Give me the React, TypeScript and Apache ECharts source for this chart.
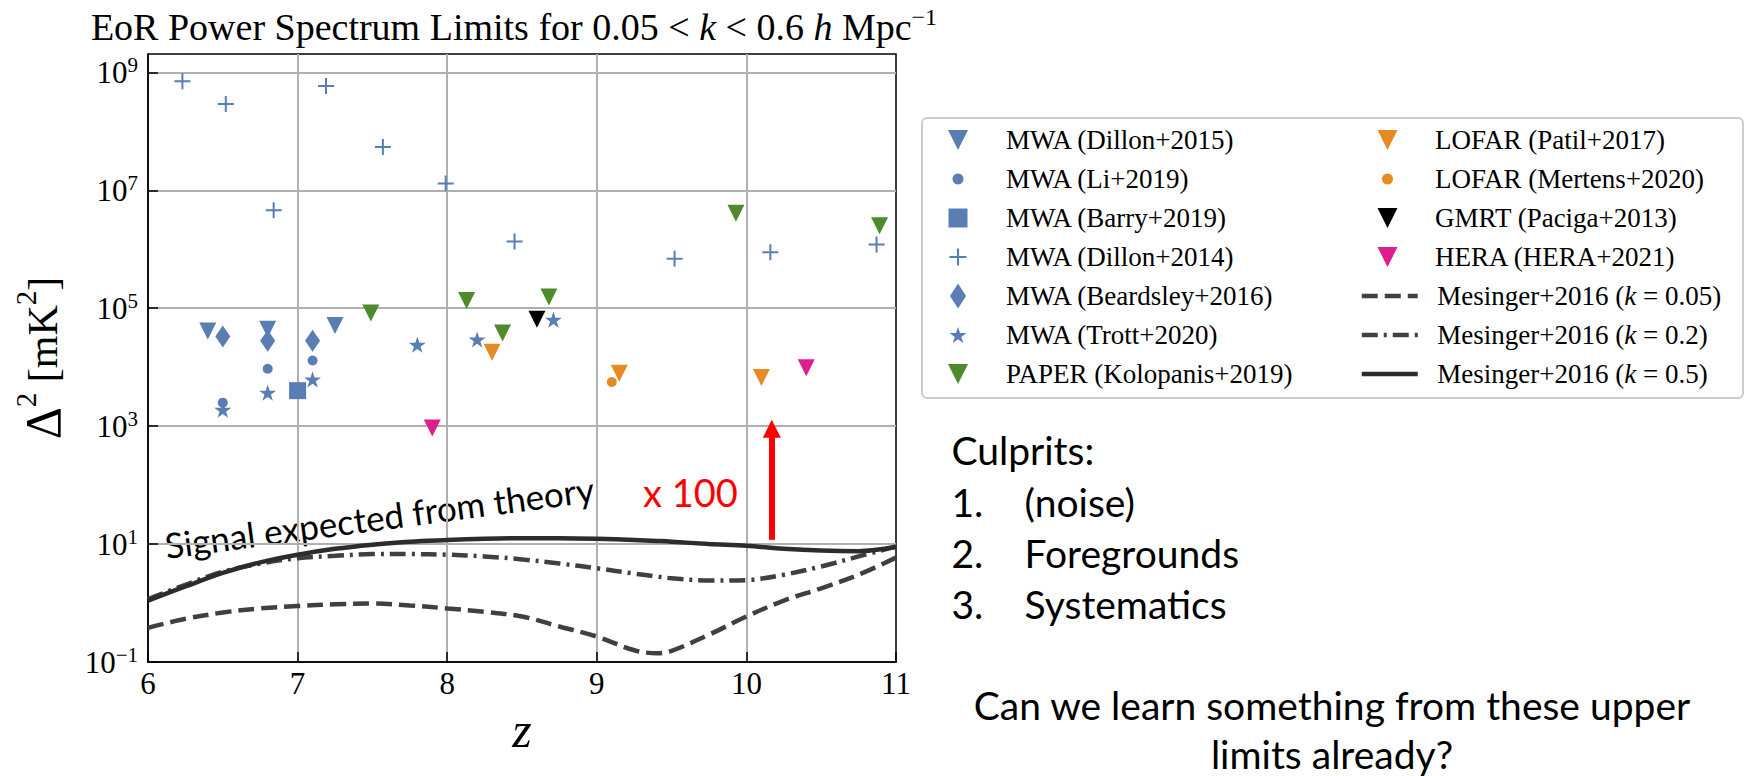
import { useEffect, useRef } from 'react';
import * as echarts from 'echarts';

const SERIF = '"Liberation Serif", "Times New Roman", serif';
const SANS = 'Lato, "Open Sans", sans-serif';

// Axis ranges (redshift z, Δ² in mK²) and the labelled decades
const Z_RANGE = [6, 11];
const DELTA_RANGE = [0.1, 2.05e9];
const DELTA_TICK_EXPONENTS = [-1, 1, 3, 5, 7, 9];

// Mesinger+2016 model power spectra, Δ² [mK²] versus z
const MODEL_Z = [6, 6.25, 6.5, 6.75, 7, 7.25, 7.5, 7.75, 8, 8.25, 8.5, 8.75, 9, 9.25, 9.4, 9.5, 9.75, 10, 10.25, 10.5, 10.75, 11];
const MESINGER_K005 = [0.38, 0.54, 0.69, 0.81, 0.89, 0.95, 0.98, 0.91, 0.81, 0.71, 0.59, 0.4, 0.27, 0.158, 0.141, 0.155, 0.29, 0.59, 1.1, 1.78, 3.02, 5.89];
const MESINGER_K02 = [1.17, 2.04, 3.39, 4.68, 5.75, 6.31, 6.76, 6.76, 6.61, 6.17, 5.5, 4.68, 3.89, 3.16, 2.82, 2.63, 2.4, 2.45, 3.02, 4.17, 6.17, 9.12];
const MESINGER_K05 = [1.1, 1.91, 3.24, 4.9, 6.61, 8.32, 9.77, 11.0, 11.7, 12.3, 12.6, 12.6, 12.3, 11.7, 11.3, 11.0, 10.0, 9.33, 8.32, 7.76, 7.59, 8.91];

// Upper limits, [z, Δ² (mK²)]
const MWA_DILLON2015 = [[6.4, 4.1e4], [6.8, 4.4e4], [7.25, 5.1e4]];
const MWA_LI2019 = [[6.5, 2.5e3], [6.8, 9.4e3], [7.1, 1.3e4]];
const MWA_BARRY2019 = [[7.0, 4.0e3]];
const MWA_DILLON2014 = [[6.23, 7.1e8], [6.52, 2.9e8], [6.84, 4.6e6], [7.19, 5.9e8], [7.57, 5.4e7], [7.99, 1.3e7], [8.45, 1.35e6], [9.52, 6.9e5], [10.16, 8.9e5], [10.87, 1.2e6]];
const MWA_BEARDSLEY2016 = [[6.5, 3.3e4], [6.8, 2.8e4], [7.1, 2.8e4]];
const MWA_TROTT2020 = [[6.5, 1.9e3], [6.8, 3.7e3], [7.1, 6.2e3], [7.8, 2.4e4], [8.2, 2.95e4], [8.71, 6.4e4]];
const PAPER_KOLOPANIS2019 = [[7.49, 8.3e4], [8.13, 1.35e5], [8.37, 3.8e4], [8.68, 1.55e5], [9.93, 4.1e6], [10.89, 2.5e6]];
const LOFAR_PATIL2017 = [[8.3, 1.8e4], [9.15, 7.9e3], [10.1, 6.7e3]];
const LOFAR_MERTENS2020 = [[9.1, 5.6e3]];
const GMRT_PACIGA2013 = [[8.6, 6.5e4]];
const HERA_2021 = [[7.9, 9.3e2], [10.4, 9.8e3]];

// "x 100" arrow: from just above the k = 0.5 curve up two decades
const ARROW_Z = 10.17;
const ARROW_FROM = 11.8;
const ARROW_TO = 900;

const BLUE = '#5a7db4';
const GREEN = '#4f8a2c';
const ORANGE = '#e68a24';
const MAGENTA = '#dd1f8e';
const CURVE_GREY = '#404040';

// Marker shapes
const TRI_DOWN = 'path://M0,0L2,0L1,2Z';
const PLUS = 'path://M7,0H9V7H16V9H9V16H7V9H0V7H7Z';
const STAR =
  'path://' +
  Array.from({ length: 10 }, (_, i) => {
    const a = -Math.PI / 2 + (i * Math.PI) / 5;
    const r = i % 2 === 0 ? 1 : 0.382;
    return `${i === 0 ? 'M' : 'L'}${(r * Math.cos(a)).toFixed(4)},${(r * Math.sin(a)).toFixed(4)}`;
  }).join('') +
  'Z';

const lg = (v: number) => Math.log10(v);

type ScatterDef = {
  name: string;
  data: number[][];
  symbol: string;
  size: number | number[];
  color: string;
  legend: { col: number; row: number; w: number; h: number; keep?: boolean };
};

const SCATTERS: ScatterDef[] = [
  { name: 'MWA (Dillon+2015)', data: MWA_DILLON2015, symbol: TRI_DOWN, size: 17, color: BLUE, legend: { col: 0, row: 0, w: 20, h: 20 } },
  { name: 'MWA (Li+2019)', data: MWA_LI2019, symbol: 'circle', size: 10, color: BLUE, legend: { col: 0, row: 1, w: 11, h: 11 } },
  { name: 'MWA (Barry+2019)', data: MWA_BARRY2019, symbol: 'rect', size: 17, color: BLUE, legend: { col: 0, row: 2, w: 19, h: 19 } },
  { name: 'MWA (Dillon+2014)', data: MWA_DILLON2014, symbol: PLUS, size: 16, color: BLUE, legend: { col: 0, row: 3, w: 17, h: 17 } },
  { name: 'MWA (Beardsley+2016)', data: MWA_BEARDSLEY2016, symbol: 'diamond', size: [15, 22], color: BLUE, legend: { col: 0, row: 4, w: 16, h: 25, keep: false } },
  { name: 'MWA (Trott+2020)', data: MWA_TROTT2020, symbol: STAR, size: 17, color: BLUE, legend: { col: 0, row: 5, w: 17, h: 17 } },
  { name: 'PAPER (Kolopanis+2019)', data: PAPER_KOLOPANIS2019, symbol: TRI_DOWN, size: 17, color: GREEN, legend: { col: 0, row: 6, w: 20, h: 20 } },
  { name: 'LOFAR (Patil+2017)', data: LOFAR_PATIL2017, symbol: TRI_DOWN, size: 17, color: ORANGE, legend: { col: 1, row: 0, w: 20, h: 20 } },
  { name: 'LOFAR (Mertens+2020)', data: LOFAR_MERTENS2020, symbol: 'circle', size: 10, color: ORANGE, legend: { col: 1, row: 1, w: 11, h: 11 } },
  { name: 'GMRT (Paciga+2013)', data: GMRT_PACIGA2013, symbol: TRI_DOWN, size: 17, color: '#000000', legend: { col: 1, row: 2, w: 20, h: 20 } },
  { name: 'HERA (HERA+2021)', data: HERA_2021, symbol: TRI_DOWN, size: 17, color: MAGENTA, legend: { col: 1, row: 3, w: 20, h: 20 } },
];

const CURVE_WIDTH = 4.5;
const CURVES = [
  { name: 'Mesinger+2016 (k = 0.05)', values: MESINGER_K005, dash: [16, 7] as number[] | 'solid', color: CURVE_GREY, row: 4 },
  { name: 'Mesinger+2016 (k = 0.2)', values: MESINGER_K02, dash: [16, 6, 3, 6] as number[] | 'solid', color: CURVE_GREY, row: 5 },
  { name: 'Mesinger+2016 (k = 0.5)', values: MESINGER_K05, dash: 'solid' as number[] | 'solid', color: '#2c2c2c', row: 6 },
];

// Legend layout: icon centre and text start of each column, row pitch
const LEGEND_ICON_X = [958, 1387.5];
const LEGEND_TEXT_X = [1006, 1435];
const LEGEND_ROW_Y = (row: number) => 140 + row * 39;
const LEGEND_LINE = 30;

function legendFor(name: string, col: number, row: number, w: number, h: number, keep = true, extra: any = {}) {
  const xc = LEGEND_ICON_X[col];
  const left = xc - w / 2;
  const padLeft = LEGEND_TEXT_X[col] - (left + w + 5);
  const italic = { fontFamily: SERIF, fontSize: 27, fontStyle: 'italic', color: '#000', lineHeight: LEGEND_LINE };
  return {
    show: true,
    orient: 'horizontal',
    left,
    top: LEGEND_ROW_Y(row) - LEGEND_LINE / 2,
    padding: 0,
    itemGap: 0,
    itemWidth: w,
    itemHeight: h,
    selectedMode: false,
    symbolKeepAspect: keep,
    data: [name],
    formatter: (n: string) => n.replace(/\(k = /, '({i|k} = '),
    textStyle: {
      fontFamily: SERIF,
      fontSize: 27,
      color: '#000',
      lineHeight: LEGEND_LINE,
      padding: [0, 0, 0, padLeft],
      rich: { i: italic },
    },
    ...extra,
  };
}

function buildOption() {
  const lineSeries = CURVES.map((c) => ({
    name: c.name,
    type: 'line',
    data: MODEL_Z.map((z, i) => [z, lg(c.values[i])]),
    symbol: 'none',
    smooth: 0.35,
    z: 2,
    lineStyle: { color: c.color, width: CURVE_WIDTH, type: c.dash, cap: 'butt' },
    itemStyle: { color: c.color },
    silent: true,
  }));

  // Arrow annotation on the k = 0.5 curve
  (lineSeries[2] as any).markLine = {
    silent: true,
    symbol: ['none', 'triangle'],
    symbolSize: [18, 18],
    lineStyle: { color: '#ff0000', width: 6, type: 'solid' },
    itemStyle: { color: '#ff0000' },
    label: { show: false },
    data: [[{ coord: [ARROW_Z, lg(ARROW_FROM)] }, { coord: [ARROW_Z, lg(ARROW_TO)] }]],
  };

  const scatterSeries = SCATTERS.map((s) => ({
    name: s.name,
    type: 'scatter',
    data: s.data.map(([z, v]) => [z, lg(v)]),
    symbol: s.symbol,
    symbolSize: s.size,
    symbolKeepAspect: true,
    itemStyle: { color: s.color, opacity: 1 },
    z: 3,
    silent: true,
  }));

  const legends = [
    ...SCATTERS.map((s) => legendFor(s.name, s.legend.col, s.legend.row, s.legend.w, s.legend.h, s.legend.keep !== false)),
    ...CURVES.map((c) =>
      legendFor(c.name, 1, c.row, 56, 4, true, { itemStyle: { opacity: 0 }, lineStyle: { width: CURVE_WIDTH } })
    ),
  ];

  const sup = (size: number) => ({ fontFamily: SERIF, fontSize: size, color: '#000', verticalAlign: 'top' });
  const sansText = (text: string, x: number, y: number, size: number, align = 'left', fill = '#000') => ({
    type: 'text',
    x,
    y,
    silent: true,
    style: { text, fontFamily: SANS, fontSize: size, fill, textAlign: align, textVerticalAlign: 'middle' },
  });

  return {
    animation: false,
    backgroundColor: '#ffffff',
    textStyle: { fontFamily: SERIF },
    title: {
      text: 'EoR Power Spectrum Limits for 0.05 < {i|k} < 0.6 {i|h} Mpc{s|−1}',
      left: 514,
      top: 5,
      textAlign: 'center',
      textVerticalAlign: 'top',
      padding: 0,
      textStyle: {
        fontFamily: SERIF,
        fontSize: 38,
        fontWeight: 'normal',
        color: '#000',
        lineHeight: 44,
        rich: {
          i: { fontFamily: SERIF, fontSize: 38, fontStyle: 'italic', color: '#000', lineHeight: 44 },
          s: sup(24),
        },
      },
    },
    grid: {
      left: 148,
      top: 54,
      width: 748,
      height: 608,
      show: true,
      borderColor: '#000',
      borderWidth: 1.5,
      backgroundColor: 'transparent',
      containLabel: false,
      outerBoundsMode: 'none',
    },
    legend: legends,
    xAxis: {
      type: 'value',
      min: Z_RANGE[0],
      max: Z_RANGE[1],
      interval: 1,
      axisLine: { show: true, onZero: false, lineStyle: { color: '#000', width: 1.5 } },
      axisTick: { show: true, inside: true, length: 10, lineStyle: { color: '#000', width: 1.5 } },
      axisLabel: { margin: 6, color: '#000', fontFamily: SERIF, fontSize: 31 },
      splitLine: { show: true, showMinLine: false, showMaxLine: false, lineStyle: { color: '#b0b0b0', width: 2 } },
      name: 'z',
      nameLocation: 'middle',
      nameGap: 43,
      nameTextStyle: { fontFamily: SERIF, fontStyle: 'italic', fontSize: 50, color: '#000' },
    },
    yAxis: {
      type: 'value',
      min: lg(DELTA_RANGE[0]),
      max: lg(DELTA_RANGE[1]),
      interval: 2,
      axisLine: { show: true, onZero: false, lineStyle: { color: '#000', width: 1.5 } },
      axisTick: { show: true, inside: true, length: 10, lineStyle: { color: '#000', width: 1.5 } },
      axisLabel: {
        margin: 10,
        showMaxLabel: false,
        lineHeight: 36,
        formatter: (v: number) => {
          const e = Math.round(v);
          if (Math.abs(v - e) > 1e-6 || !DELTA_TICK_EXPONENTS.includes(e)) return '';
          return `{b|10}{s|${e < 0 ? '−' + -e : e}}`;
        },
        rich: {
          b: { fontFamily: SERIF, fontSize: 31, color: '#000', lineHeight: 36 },
          s: sup(21),
        },
      },
      splitLine: { show: true, showMinLine: false, showMaxLine: false, lineStyle: { color: '#b0b0b0', width: 2 } },
      name: '{D|Δ}{s|2} {d|[mK}{s|2}{d|]}',
      nameLocation: 'middle',
      nameRotate: 90,
      nameGap: 73,
      nameTextStyle: {
        fontFamily: SERIF,
        fontSize: 42,
        color: '#000',
        lineHeight: 64,
        rich: {
          D: { fontFamily: SERIF, fontSize: 50, color: '#000', lineHeight: 64 },
          d: { fontFamily: SERIF, fontSize: 42, color: '#000', lineHeight: 64 },
          s: sup(29),
        },
      },
    },
    series: [...lineSeries, ...scatterSeries],
    graphic: {
      elements: [
        {
          type: 'rect',
          z: 0,
          silent: true,
          shape: { x: 922, y: 118, width: 821, height: 280, r: 5 },
          style: { fill: '#ffffff', stroke: '#cccccc', lineWidth: 2 },
        },
        {
          type: 'text',
          x: 165,
          y: 545,
          rotation: (7.6 * Math.PI) / 180,
          silent: true,
          style: { text: 'Signal expected from theory', fontFamily: SANS, fontSize: 35, fill: '#000', textAlign: 'left', textVerticalAlign: 'middle' },
        },
        sansText('x 100', 643, 492, 38, 'left', '#ff0000'),
        sansText('Culprits:', 951.5, 450, 39),
        ...['1.', '2.', '3.'].map((t, i) => sansText(t, 951.5, 502 + i * 51, 39)),
        ...['(noise)', 'Foregrounds', 'Systematics'].map((t, i) => sansText(t, 1024.6, 502 + i * 51, 39)),
        sansText('Can we learn something from these upper', 1332, 705, 39, 'center'),
        sansText('limits already?', 1332, 754, 39, 'center'),
      ],
    },
  };
}

export default function App() {
  const ref = useRef<HTMLDivElement>(null);
  useEffect(() => {
    if (!ref.current) return;
    const chart = echarts.init(ref.current, null, { renderer: 'svg' });
    chart.setOption(buildOption() as any);
    return () => chart.dispose();
  }, []);
  return <div ref={ref} style={{ position: 'absolute', left: 0, top: 0, width: 1746, height: 776, background: '#fff' }} />;
}
